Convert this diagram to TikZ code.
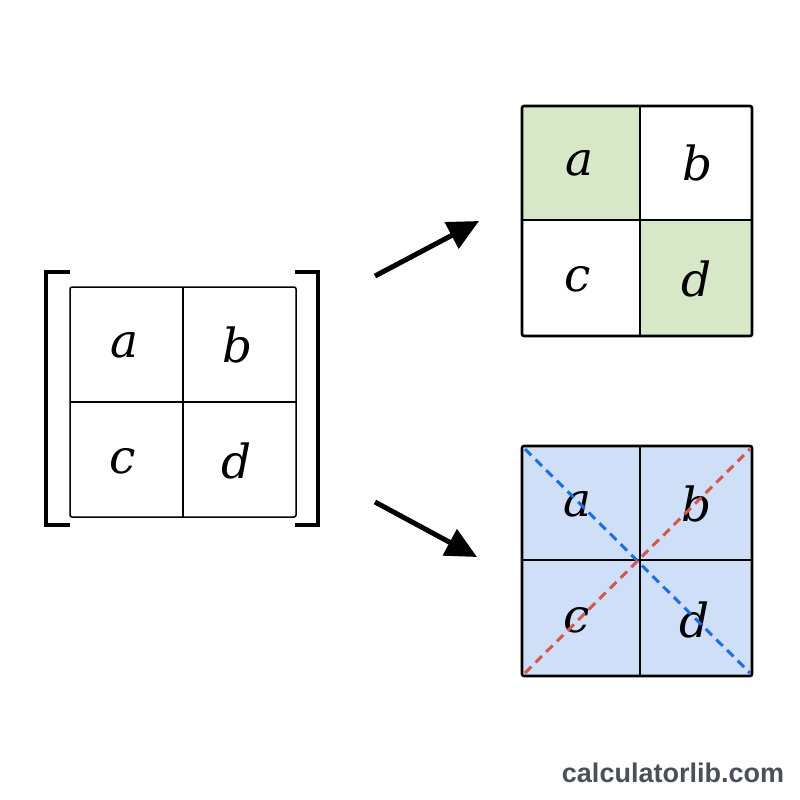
\documentclass[tikz,border=0pt]{standalone}
\usepackage{fontspec}
\newfontfamily\sitefont{Liberation Sans}
\newfontfamily\cellfont{DejaVu Serif}
\usetikzlibrary{arrows.meta}

\definecolor{cellgreen}{HTML}{D6E8C8}
\definecolor{cellblue}{HTML}{CEDFF7}
\definecolor{diagblue}{HTML}{1C6DE6}
\definecolor{diagred}{HTML}{D65552}
\definecolor{sitegray}{HTML}{4A4F5A}

\tikzset{
  letter/.style={font=\cellfont\fontsize{47}{47}\selectfont\itshape, inner sep=0pt},
  gridline/.style={line width=1.5pt},
  outerbox/.style={line width=2.6pt, rounded corners=2pt},
  bigarrow/.style={line width=5pt, -{Triangle[length=31pt,width=29pt]}},
  diag/.style={line width=3pt, dash pattern=on 9pt off 6pt}
}

\begin{document}
\begin{tikzpicture}[x=1pt, y=-1pt]
\useasboundingbox[fill=white] (0,0) rectangle (800,800);

% left matrix
\draw[gridline, rounded corners=2pt] (70,287) rectangle (296,517);
\draw[gridline] (183,287) -- (183,517);
\draw[gridline] (70,402) -- (296,402);
\draw[line width=4pt] (70,272) -| (46,525) -- (70,525);
\draw[line width=4pt] (295,272) -| (318,525) -- (295,525);

\node[letter] (la) at (125,345) {a};
\node[letter] (lb) at (238,345) {b};
\node[letter] (lc) at (123,461) {c};
\node[letter] (ld) at (237,461) {d};

% top right: main diagonal shaded
\fill[cellgreen] (522,106) rectangle (640,220);
\fill[cellgreen] (640,220) rectangle (752,336);
\draw[gridline] (640,106) -- (640,336);
\draw[gridline] (522,220) -- (752,220);
\draw[outerbox] (522,106) rectangle (752,336);

\node[letter] (ta) at (580,163) {a};
\node[letter] (tb) at (698,163) {b};
\node[letter] (tc) at (578,279) {c};
\node[letter] (td) at (697,279) {d};

% bottom right: both diagonals
\fill[cellblue] (522,446) rectangle (752,676);
\draw[gridline] (640,446) -- (640,676);
\draw[gridline] (522,560) -- (752,560);
\draw[outerbox] (522,446) rectangle (752,676);

\node[letter] (ba) at (578,504) {a};
\node[letter] (bb) at (697,504) {b};
\node[letter] (bc) at (577,620) {c};
\node[letter] (bd) at (695,620) {d};

\coordinate (dtl) at (525,449);
\coordinate (dbr) at (750,673);
\coordinate (dbl) at (525,673);
\coordinate (dtr) at (750,449);
\draw[diag, diagblue] (dtl) -- (dbr);
\draw[diag, diagred] (dbl) -- (dtr);

% arrows
\coordinate (up0) at (375,276);
\coordinate (up1) at (479,221);
\coordinate (dn0) at (375,502);
\coordinate (dn1) at (477,557);
\draw[bigarrow] (up0) -- (up1);
\draw[bigarrow] (dn0) -- (dn1);

\node[font=\sitefont\bfseries\fontsize{27}{27}\selectfont, text=sitegray] (site) at (673,773) {calculatorlib.com};
\end{tikzpicture}
\end{document}
